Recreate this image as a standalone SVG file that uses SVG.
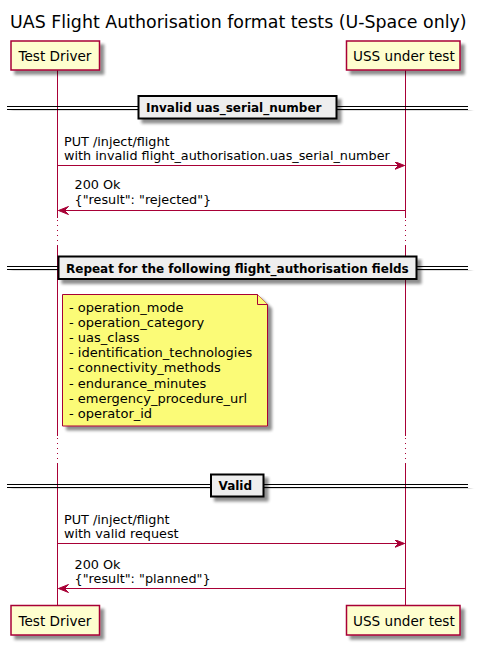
<svg xmlns="http://www.w3.org/2000/svg" width="481" height="649" viewBox="0 0 481 649">
<defs>
<filter id="sh" x="-10%" y="-10%" width="130%" height="150%">
<feGaussianBlur in="SourceAlpha" stdDeviation="1.8"/>
<feOffset dx="4" dy="4" result="b"/>
<feComponentTransfer><feFuncA type="linear" slope="0.45"/></feComponentTransfer>
<feMerge><feMergeNode/><feMergeNode in="SourceGraphic"/></feMerge>
</filter>
<marker id="ah" markerWidth="12" markerHeight="10" refX="10" refY="4" orient="auto" markerUnits="userSpaceOnUse">
<polygon points="0,0 10,4 0,8 4,4" fill="#A80036" stroke="#A80036" stroke-width="1"/>
</marker>
</defs>
<style>
text{font-family:"DejaVu Sans","Liberation Sans",sans-serif;fill:#000}
.title{font-size:17.4px}
.part rect{fill:#FEFECE;stroke:#A80036;stroke-width:1.5}
.part text{font-size:13.6px}
.life{stroke:#A80036;stroke-width:1;fill:none}
.dot{stroke:#A80036;stroke-width:1;stroke-dasharray:1,4}
.msg{font-size:12.8px}
.arr{stroke:#A80036;stroke-width:1;marker-end:url(#ah)}
.div line{stroke:#000;stroke-width:1}
.div rect{fill:#EEEEEE;stroke:#000;stroke-width:2}
.div text{font-size:12px;font-weight:bold}
.note path{fill:#FBFB77;stroke:#A80036;stroke-width:1}
.note text{font-size:13px}
</style>

<text class="title" x="10" y="28">UAS Flight Authorisation format tests (U-Space only)</text>

<g id="lifelines">
<line class="life" x1="57.5" y1="70" x2="57.5" y2="218"/>
<line class="dot" x1="57.5" y1="220" x2="57.5" y2="245"/>
<line class="life" x1="57.5" y1="245" x2="57.5" y2="436"/>
<line class="dot" x1="57.5" y1="438" x2="57.5" y2="464"/>
<line class="life" x1="57.5" y1="464" x2="57.5" y2="605"/>
<line class="life" x1="405.5" y1="70" x2="405.5" y2="218"/>
<line class="dot" x1="405.5" y1="220" x2="405.5" y2="245"/>
<line class="life" x1="405.5" y1="245" x2="405.5" y2="436"/>
<line class="dot" x1="405.5" y1="438" x2="405.5" y2="464"/>
<line class="life" x1="405.5" y1="464" x2="405.5" y2="605"/>
</g>

<g id="td-top" class="part">
<rect x="11" y="41" width="88.5" height="29" filter="url(#sh)"/>
<text x="18.5" y="60.5">Test Driver</text>
</g>
<g id="uss-top" class="part">
<rect x="346.5" y="41" width="113.5" height="29" filter="url(#sh)"/>
<text x="353" y="60.5">USS under test</text>
</g>

<g id="div1" class="div">
<g filter="url(#sh)">
<line x1="7" y1="106.5" x2="468" y2="106.5"/>
<line x1="7" y1="109.5" x2="468" y2="109.5"/>
</g>
<rect x="138.5" y="96" width="198" height="22.5" filter="url(#sh)"/>
<text x="146" y="112">Invalid uas_serial_number</text>
</g>

<g id="connectors">
<line class="arr" x1="57.5" y1="165.5" x2="404.5" y2="165.5"/>
<line class="arr" x1="405.5" y1="210.5" x2="58.5" y2="210.5"/>
<line class="arr" x1="57.5" y1="543.5" x2="404.5" y2="543.5"/>
<line class="arr" x1="405.5" y1="588.5" x2="58.5" y2="588.5"/>
</g>

<g id="msg-labels" class="msg">
<text x="64" y="145.5">PUT /inject/flight</text>
<text x="64" y="159.5">with invalid flight_authorisation.uas_serial_number</text>
<text x="74.5" y="189">200 Ok</text>
<text x="74.5" y="203.5">{"result": "rejected"}</text>
<text x="64" y="523.5">PUT /inject/flight</text>
<text x="64" y="537.5">with valid request</text>
<text x="74.5" y="568.5">200 Ok</text>
<text x="74.5" y="582.5">{"result": "planned"}</text>
</g>

<g id="div2" class="div">
<g filter="url(#sh)">
<line x1="7" y1="266.5" x2="468" y2="266.5"/>
<line x1="7" y1="269.5" x2="468" y2="269.5"/>
</g>
<rect x="58.5" y="256.5" width="358" height="22.5" filter="url(#sh)"/>
<text x="66" y="272.5">Repeat for the following flight_authorisation fields</text>
</g>

<g id="note" class="note">
<path d="M62.5,294.5 L257.5,294.5 L267.5,304.5 L267.5,426 L62.5,426 Z" filter="url(#sh)"/>
<path d="M257.5,294.5 L257.5,304.5 L267.5,304.5" fill="none"/>
<text x="69" y="311.5">- operation_mode</text>
<text x="69" y="326.7">- operation_category</text>
<text x="69" y="341.9">- uas_class</text>
<text x="69" y="357.1">- identification_technologies</text>
<text x="69" y="372.3">- connectivity_methods</text>
<text x="69" y="387.5">- endurance_minutes</text>
<text x="69" y="402.7">- emergency_procedure_url</text>
<text x="69" y="417.9">- operator_id</text>
</g>

<g id="div3" class="div">
<g filter="url(#sh)">
<line x1="7" y1="484.5" x2="468" y2="484.5"/>
<line x1="7" y1="487.5" x2="468" y2="487.5"/>
</g>
<rect x="211" y="474.5" width="52.5" height="22" filter="url(#sh)"/>
<text x="218.5" y="490">Valid</text>
</g>

<g id="td-bottom" class="part">
<rect x="11" y="605.5" width="88.5" height="29.5" filter="url(#sh)"/>
<text x="18.5" y="625.5">Test Driver</text>
</g>
<g id="uss-bottom" class="part">
<rect x="346.5" y="605.5" width="113.5" height="29.5" filter="url(#sh)"/>
<text x="353" y="625.5">USS under test</text>
</g>
</svg>
